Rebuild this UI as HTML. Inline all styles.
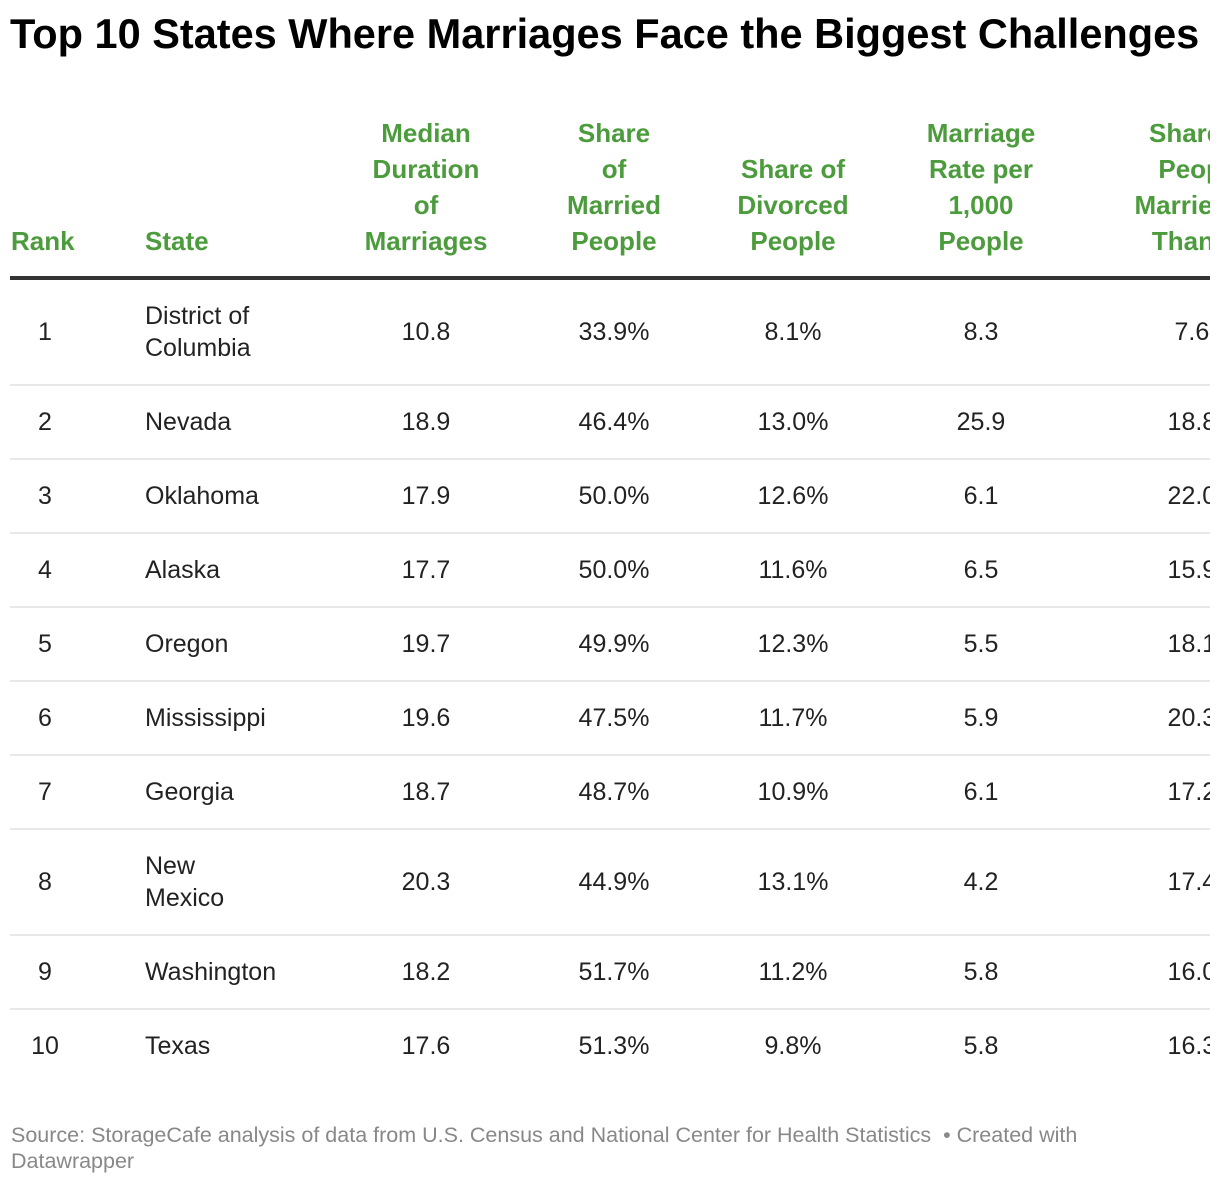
<!DOCTYPE html>
<html><head><meta charset="utf-8"><style>
body{margin:0;background:#fff;width:1220px;height:1184px;overflow:hidden;font-family:"Liberation Sans",sans-serif;position:relative}
#title{position:absolute;left:10px;top:10px;font-size:41.5px;font-weight:bold;color:#000;white-space:nowrap}
#clip{position:absolute;left:0;top:0;width:1210px;height:1100px;overflow:hidden}
.h{position:absolute;color:#4c9b3c;font-weight:bold;font-size:26px;line-height:36px;text-align:center;width:200px;white-space:nowrap}
.c{position:absolute;font-size:25px;color:#222;line-height:32px;white-space:nowrap}
.sep{position:absolute;left:10px;width:1200px;height:2px;background:#e8e8e8}
#footer{position:absolute;left:11px;top:1122px;font-size:21.5px;color:#888;line-height:26px;width:1100px}
</style></head><body>
<div id="title">Top 10 States Where Marriages Face the Biggest Challenges</div>
<div id="clip"></div>
<div id="footer">Source: StorageCafe analysis of data from U.S. Census and National Center for Health Statistics &nbsp;• Created with Datawrapper</div>
<script>
const states=["District of<br>Columbia","Nevada","Oklahoma","Alaska","Oregon","Mississippi","Georgia","New<br>Mexico","Washington","Texas"];
const duration=["10.8","18.9","17.9","17.7","19.7","19.6","18.7","20.3","18.2","17.6"];
const married=["33.9%","46.4%","50.0%","50.0%","49.9%","47.5%","48.7%","44.9%","51.7%","51.3%"];
const divorced=["8.1%","13.0%","12.6%","11.6%","12.3%","11.7%","10.9%","13.1%","11.2%","9.8%"];
const rate=["8.3","25.9","6.1","6.5","5.5","5.9","6.1","4.2","5.8","5.8"];
const young=["7.6%","18.8%","22.0%","15.9%","18.1%","20.3%","17.2%","17.4%","16.0%","16.3%"];
const clip=document.getElementById('clip');
const heads=[["Median<br>Duration<br>of<br>Marriages",426],["Share<br>of<br>Married<br>People",614],["Share of<br>Divorced<br>People",793],["Marriage<br>Rate per<br>1,000<br>People",981],["Share of<br>People<br>Married Ea<br>Than 20",1201]];
function add(cls,html,style,name){const d=document.createElement('div');d.className=cls;d.innerHTML=html;d.setAttribute('style',style);


clip.appendChild(d);return d;}
add('h','Rank','left:11px;top:223px;width:auto;text-align:left','header-rank');
add('h','State','left:145px;top:223px;width:auto;text-align:left','header-state');
heads.forEach(h=>{const n=(h[0].match(/<br>/g)||[]).length+1;add('h',h[0],'left:'+(h[1]-100)+'px;top:'+(259-36*n)+'px','column-header');});
add('sep','','top:276px;height:4px;background:#333','header-rule');
const centers=[332,422,496,570,644,718,792,882,972,1046];
const seps=[385,459,533,607,681,755,829,935,1009];
seps.forEach(y=>add('sep','','top:'+(y-1)+'px','row-separator'));
centers.forEach((y,i)=>{
  const multi=states[i].includes('<br>');
  add('c',String(i+1),'left:0;width:90px;text-align:center;top:'+(y-16)+'px','rank-cell');
  add('c',states[i],'left:145px;line-height:32px;top:'+(y-(multi?32:16))+'px','state-cell');
  [[duration,426],[married,614],[divorced,793],[rate,981],[young,1203]].forEach(c=>add('c',c[0][i],'left:'+(c[1]-100)+'px;width:200px;text-align:center;top:'+(y-16)+'px','value-cell'));
});
</script>
</body></html>
